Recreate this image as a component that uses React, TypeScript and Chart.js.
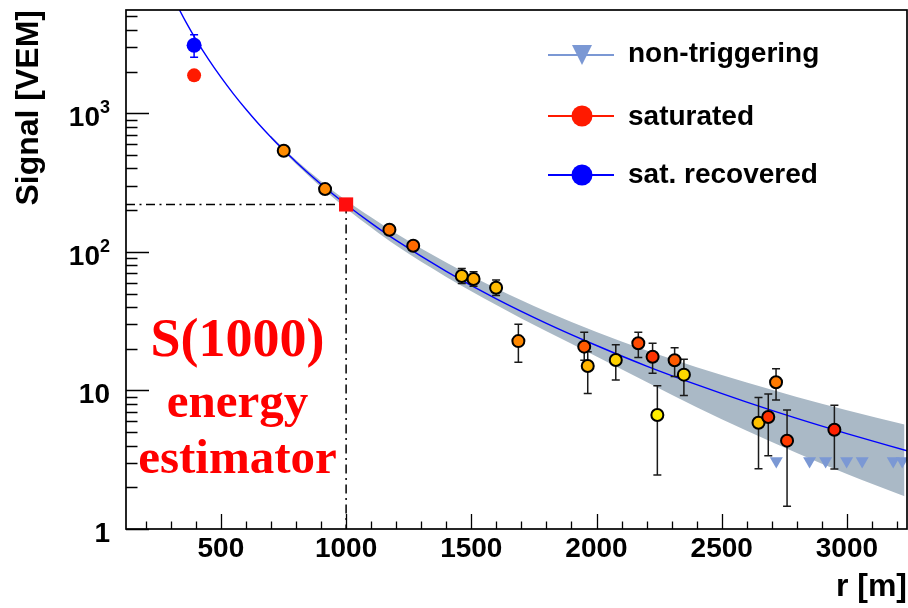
import React, { useEffect, useRef } from 'react';
import { Chart, registerables } from 'chart.js';

Chart.register(...registerables);

// ---------------- data ----------------
// regular (orange/yellow) stations: distance r [m], signal [VEM], error bounds
const stationR = [751, 916, 1173, 1268, 1462, 1509, 1599, 1688, 1951, 1965, 2077, 2167, 2224, 2243, 2312, 2349, 2647, 2686, 2717, 2761, 2950];
const stationS = [537, 284, 144.5, 110.8, 67, 63.7, 55.1, 22.7, 20.7, 15.0, 16.6, 21.9, 17.5, 6.65, 16.5, 13.0, 5.85, 6.43, 11.45, 4.34, 5.21];
const stationErrLow = [null, null, null, null, 59.1, 56.4, 48.4, 16.0, 16.5, 9.5, 11.9, 17.3, 13.3, 2.45, 12.6, 9.2, 2.72, 3.38, 8.53, 1.46, 2.71];
const stationErrHigh = [null, null, null, null, 75.9, 71.9, 62.7, 30.0, 26.3, 19.0, 21.4, 26.3, 21.9, 10.8, 20.3, 16.8, 8.9, 9.43, 14.35, 7.22, 7.81];
const stationColors = ['#ff8c00', '#ff8800', '#ff7700', '#ff6a00', '#ffbb00', '#ffaa00', '#ffbb00', '#ff8800', '#ff5a00', '#ffb400', '#ffd000', '#ff4a00', '#ff3300', '#ffee00', '#ff5a00', '#ffd800', '#ffc000', '#ff3300', '#ff7a00', '#ff3c00', '#ff2000'];

// saturated station (raw) and its recovered signal
const saturatedR = [393];
const saturatedS = [1880];
const recoveredR = [393];
const recoveredS = [3100];
const recoveredErrLow = [2535];
const recoveredErrHigh = [3690];

// non-triggering stations (upper limits)
const silentR = [2718, 2851, 2915, 2999, 3061, 3185, 3221];
const silentS = [3.1, 3.1, 3.1, 3.1, 3.1, 3.1, 3.1];

// reference point S(1000)
const refR = [1000];
const refS = [220];

// lateral distribution fit
const fitR = [320, 360, 400, 450, 500, 550, 600, 650, 700, 750, 800, 900, 1000, 1100, 1200, 1400, 1600, 1800, 2000, 2200, 2400, 2600, 2800, 3000, 3240];
const fitS = [6270, 4570, 3420, 2460, 1824, 1383, 1070, 842, 673, 545, 446, 308, 220, 161.4, 121, 72.4, 45.8, 30.5, 21.1, 15.0, 11.0, 8.23, 6.28, 4.88, 3.67];

// uncertainty band of the fit
const bandR = [700, 800, 900, 1000, 1100, 1200, 1400, 1600, 1800, 2000, 2200, 2400, 2600, 2800, 3000, 3230];
const bandUpper = [690, 461, 324, 235, 178, 136, 84, 54.5, 37.2, 26.4, 19.4, 14.7, 11.4, 8.97, 7.21, 5.68];
const bandLower = [657, 431, 293, 206, 150, 111, 66, 41.4, 26.7, 17.6, 11.5, 7.57, 5.12, 3.54, 2.49, 1.72];

// axes
const xMin = 121;
const xMax = 3240;
const yMin = 1;
const yMax = 5570;
const xLabelTicks = [500, 1000, 1500, 2000, 2500, 3000];
const xMinorTicks = [200, 300, 400, 600, 700, 800, 900, 1100, 1200, 1300, 1400, 1600, 1700, 1800, 1900, 2100, 2200, 2300, 2400, 2600, 2700, 2800, 2900, 3100, 3200];
const yMajorTicks = [1, 10, 100, 1000];
const yTickBase = ['1', '10', '10', '10'];
const yTickExp = ['', '', '2', '3'];
const yMinorTicks = [2, 3, 4, 5, 6, 7, 8, 9, 20, 30, 40, 50, 60, 70, 80, 90, 200, 300, 400, 500, 600, 700, 800, 900, 2000, 3000, 4000, 5000];

const xTitle = 'r [m]';
const yTitle = 'Signal [VEM]';
const legendLabels = ['non-triggering', 'saturated', 'sat. recovered'];
const noteLines = ['S(1000)', 'energy', 'estimator'];

const SANS = '"Liberation Sans", Arial, Helvetica, sans-serif';
const SERIF = '"Liberation Serif", "Times New Roman", Times, serif';

const decorPlugin = {
  id: 'decor',
  afterDatasetDraw(chart: any, args: any) {
    if (args.meta.label !== 'fit') return;
    const { ctx, chartArea } = chart;
    const xs = chart.scales.x;
    const ys = chart.scales.y;
    ctx.save();
    ctx.beginPath();
    ctx.rect(chartArea.left, chartArea.top, chartArea.right - chartArea.left, chartArea.bottom - chartArea.top);
    ctx.clip();

    // dash-dotted guide lines to S(1000)
    const px = xs.getPixelForValue(refR[0]);
    const py = ys.getPixelForValue(refS[0]);
    ctx.strokeStyle = '#000';
    ctx.lineWidth = 1.5;
    ctx.setLineDash([9, 4.5, 2, 4.5]);
    ctx.beginPath();
    ctx.moveTo(chartArea.left, py);
    ctx.lineTo(px, py);
    ctx.stroke();
    ctx.beginPath();
    ctx.moveTo(px, py);
    ctx.lineTo(px, chartArea.bottom);
    ctx.stroke();
    ctx.setLineDash([]);

    // error bars
    const drawBar = (r: number, lo: number, hi: number, color: string) => {
      const x = xs.getPixelForValue(r);
      const y1 = ys.getPixelForValue(lo);
      const y2 = ys.getPixelForValue(hi);
      ctx.strokeStyle = color;
      ctx.lineWidth = 1.5;
      ctx.beginPath();
      ctx.moveTo(x, y1);
      ctx.lineTo(x, y2);
      ctx.moveTo(x - 4, y1);
      ctx.lineTo(x + 4, y1);
      ctx.moveTo(x - 4, y2);
      ctx.lineTo(x + 4, y2);
      ctx.stroke();
    };
    stationR.forEach((r, i) => {
      const lo = stationErrLow[i];
      const hi = stationErrHigh[i];
      if (lo != null && hi != null) drawBar(r, lo, hi, '#1a1a1a');
    });
    recoveredR.forEach((r, i) => drawBar(r, recoveredErrLow[i], recoveredErrHigh[i], '#0000ff'));
    ctx.restore();
  },
  afterDraw(chart: any) {
    const { ctx, chartArea } = chart;
    const xs = chart.scales.x;
    const ys = chart.scales.y;
    const { left, right, top, bottom } = chartArea;
    ctx.save();
    ctx.strokeStyle = '#000';
    ctx.lineWidth = 1.3;
    // inward ticks
    ctx.beginPath();
    xLabelTicks.forEach((v) => {
      const x = Math.round(xs.getPixelForValue(v)) + 0.5;
      ctx.moveTo(x, bottom);
      ctx.lineTo(x, bottom - 15);
    });
    xMinorTicks.forEach((v) => {
      const x = Math.round(xs.getPixelForValue(v)) + 0.5;
      ctx.moveTo(x, bottom);
      ctx.lineTo(x, bottom - 7.5);
    });
    yMajorTicks.forEach((v) => {
      const y = Math.round(ys.getPixelForValue(v)) + 0.5;
      ctx.moveTo(left, y);
      ctx.lineTo(left + 23, y);
    });
    yMinorTicks.forEach((v) => {
      const y = Math.round(ys.getPixelForValue(v)) + 0.5;
      ctx.moveTo(left, y);
      ctx.lineTo(left + 11.5, y);
    });
    ctx.stroke();
    // frame
    ctx.lineWidth = 1.7;
    ctx.strokeRect(left, top, right - left, bottom - top);

    // y tick labels with exponents
    ctx.fillStyle = '#000';
    ctx.textBaseline = 'alphabetic';
    yMajorTicks.forEach((v, i) => {
      const y = ys.getPixelForValue(v);
      const labelRight = left - 16;
      const exp = yTickExp[i];
      let baseRight = labelRight;
      if (exp) {
        ctx.font = `bold 18px ${SANS}`;
        const w = ctx.measureText(exp).width;
        baseRight = labelRight - w;
        ctx.textAlign = 'left';
        ctx.fillText(exp, baseRight, y);
      }
      ctx.font = `bold 28px ${SANS}`;
      ctx.textAlign = 'right';
      ctx.fillText(yTickBase[i], baseRight, y + 13);
    });

    // legend
    const rows = [55, 116, 175];
    const base = [62, 125, 183];
    const colors = ['#7b98d4', '#ff1a00', '#0000ff'];
    rows.forEach((y, i) => {
      ctx.strokeStyle = colors[i];
      ctx.lineWidth = 2.2;
      ctx.beginPath();
      ctx.moveTo(548, y);
      ctx.lineTo(614, y);
      ctx.stroke();
      ctx.fillStyle = colors[i];
      ctx.beginPath();
      if (i === 0) {
        ctx.moveTo(572, y - 10);
        ctx.lineTo(592, y - 10);
        ctx.lineTo(582, y + 10);
        ctx.closePath();
      } else {
        ctx.arc(582, y, 10.5, 0, Math.PI * 2);
      }
      ctx.fill();
      ctx.fillStyle = '#000';
      ctx.font = `bold 28px ${SANS}`;
      ctx.textAlign = 'left';
      ctx.textBaseline = 'alphabetic';
      ctx.fillText(legendLabels[i], 628, base[i]);
    });

    // annotation
    ctx.fillStyle = '#ff0000';
    ctx.textAlign = 'center';
    ctx.font = `bold 54px ${SERIF}`;
    ctx.fillText(noteLines[0], 237.5, 356);
    ctx.font = `bold 49px ${SERIF}`;
    ctx.fillText(noteLines[1], 237.5, 417);
    ctx.fillText(noteLines[2], 237.5, 473);
    ctx.restore();
  },
};

export default function App() {
  const ref = useRef<HTMLCanvasElement>(null);
  useEffect(() => {
    const canvas = ref.current;
    if (!canvas) return;
    const chart = new Chart(canvas, {
      type: 'scatter',
      data: {
        datasets: [
          {
            label: 'stations',
            order: 1,
            data: stationR.map((r, i) => ({ x: r, y: stationS[i] })),
            pointRadius: 6,
            pointBorderWidth: 2,
            pointBorderColor: '#000',
            pointBackgroundColor: stationColors,
            showLine: false,
          },
          {
            label: 'saturated',
            order: 1,
            data: saturatedR.map((r, i) => ({ x: r, y: saturatedS[i] })),
            pointRadius: 7,
            pointBorderWidth: 0,
            pointBackgroundColor: '#ff1a00',
            pointBorderColor: 'rgba(0,0,0,0)',
            showLine: false,
          },
          {
            label: 'recovered',
            order: 1,
            data: recoveredR.map((r, i) => ({ x: r, y: recoveredS[i] })),
            pointRadius: 7.5,
            pointBorderWidth: 0,
            pointBackgroundColor: '#0000ff',
            pointBorderColor: 'rgba(0,0,0,0)',
            showLine: false,
          },
          {
            label: 'S1000',
            order: 0,
            data: refR.map((r, i) => ({ x: r, y: refS[i] })),
            pointStyle: 'rect',
            pointRadius: 10,
            pointBorderWidth: 0,
            pointBackgroundColor: '#ff0d0d',
            pointBorderColor: 'rgba(0,0,0,0)',
            showLine: false,
          },
          {
            label: 'non-triggering',
            order: 2,
            data: silentR.map((r, i) => ({ x: r, y: silentS[i] })),
            pointStyle: 'triangle',
            rotation: 180,
            pointRadius: 7.5,
            pointBorderWidth: 0,
            pointBackgroundColor: '#7b98d4',
            pointBorderColor: 'rgba(0,0,0,0)',
            showLine: false,
          },
          {
            label: 'fit',
            order: 3,
            data: fitR.map((r, i) => ({ x: r, y: fitS[i] })),
            showLine: true,
            borderColor: '#0000ff',
            borderWidth: 1.4,
            pointRadius: 0,
            cubicInterpolationMode: 'monotone',
            fill: false,
          },
          {
            label: 'band upper',
            order: 4,
            data: bandR.map((r, i) => ({ x: r, y: bandUpper[i] })),
            showLine: true,
            borderColor: 'rgba(0,0,0,0)',
            borderWidth: 0,
            pointRadius: 0,
            backgroundColor: '#aab9c6',
            cubicInterpolationMode: 'monotone',
            fill: '+1',
          },
          {
            label: 'band lower',
            order: 4,
            data: bandR.map((r, i) => ({ x: r, y: bandLower[i] })),
            showLine: true,
            borderColor: 'rgba(0,0,0,0)',
            borderWidth: 0,
            pointRadius: 0,
            cubicInterpolationMode: 'monotone',
            fill: false,
          },
        ] as any,
      },
      options: {
        responsive: false,
        animation: false,
        devicePixelRatio: 1,
        events: [],
        layout: { autoPadding: false, padding: { left: 0, right: 1, top: 10, bottom: 0 } },
        plugins: {
          legend: { display: false },
          tooltip: { enabled: false },
        },
        scales: {
          x: {
            type: 'linear',
            min: xMin,
            max: xMax,
            grid: { display: false, drawTicks: false },
            border: { display: false },
            afterBuildTicks: (scale: any) => {
              scale.ticks = xLabelTicks.map((v) => ({ value: v }));
            },
            afterFit: (scale: any) => {
              scale.height = 79;
              scale.paddingLeft = 0;
              scale.paddingRight = 0;
              scale.paddingTop = 0;
              scale.paddingBottom = 0;
            },
            ticks: {
              autoSkip: false,
              maxRotation: 0,
              padding: 3,
              color: '#000',
              font: { family: SANS, size: 28, weight: 'bold' },
              callback: (v: any) => String(v),
            },
            title: {
              display: true,
              text: xTitle,
              align: 'end',
              color: '#000',
              padding: { top: 0, bottom: 2 },
              font: { family: SANS, size: 32, weight: 'bold' },
            },
          },
          y: {
            type: 'logarithmic',
            min: yMin,
            max: yMax,
            grid: { display: false, drawTicks: false },
            border: { display: false },
            afterBuildTicks: (scale: any) => {
              scale.ticks = yMajorTicks.map((v) => ({ value: v }));
            },
            afterFit: (scale: any) => {
              scale.width = 126;
              scale.paddingLeft = 0;
              scale.paddingRight = 0;
              scale.paddingTop = 0;
              scale.paddingBottom = 0;
            },
            ticks: {
              display: false,
              autoSkip: false,
            },
            title: {
              display: true,
              text: yTitle,
              align: 'end',
              color: '#000',
              padding: { top: 10, bottom: 0 },
              font: { family: SANS, size: 32, weight: 'bold' },
            },
          },
        },
      } as any,
      plugins: [decorPlugin],
    });
    return () => chart.destroy();
  }, []);

  return (
    <div style={{ position: 'absolute', left: 0, top: 0, width: 908, height: 608, background: '#fff' }}>
      <canvas ref={ref} width={908} height={608} style={{ display: 'block', width: 908, height: 608 }} />
    </div>
  );
}
